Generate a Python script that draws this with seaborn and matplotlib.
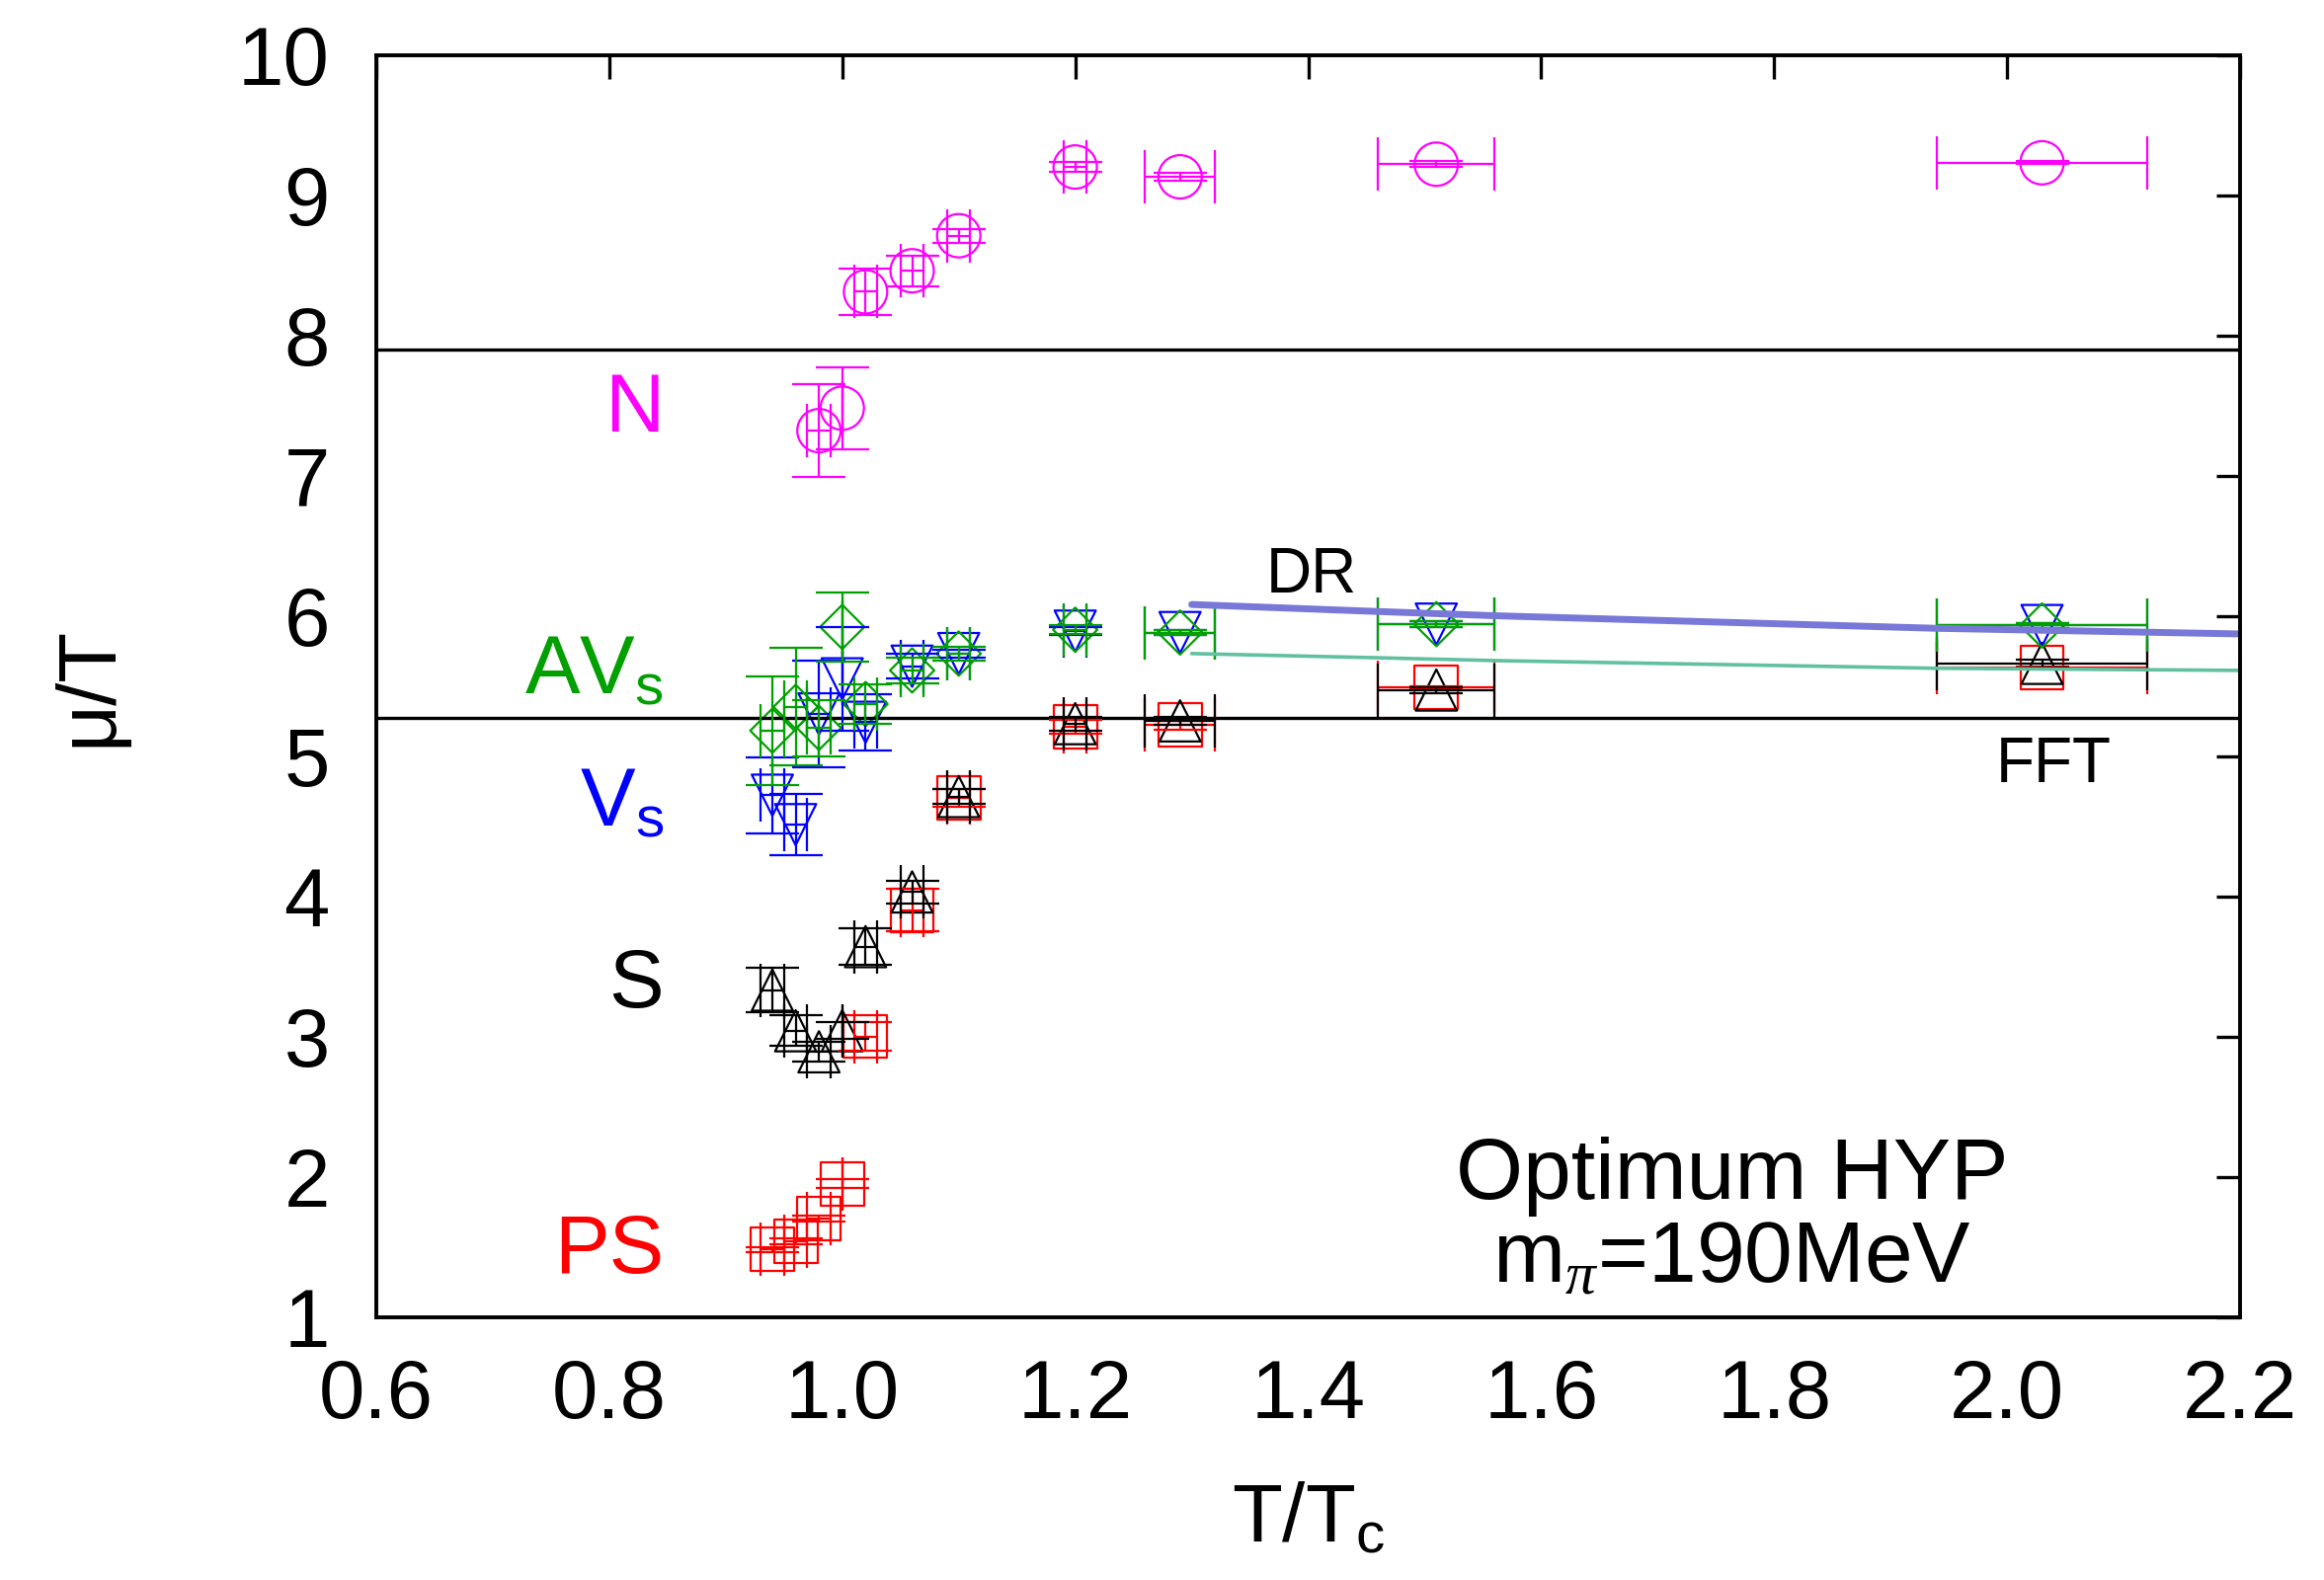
import numpy as np
import pandas as pd
import matplotlib
matplotlib.use('Agg')
import matplotlib.pyplot as plt
import seaborn as sns

# temperatures T/Tc of the ensembles and their uncertainty
T_all = [0.94, 0.96, 0.98, 1.00, 1.02, 1.06, 1.10, 1.20, 1.29, 1.51, 2.03]
T_err = [0.01, 0.01, 0.01, 0.0, 0.01, 0.01, 0.01, 0.01, 0.03, 0.05, 0.09]

# screening masses mu/T for each channel
ps_mu = [1.48, 1.54, 1.70, 1.95, 3.00, 3.90, 4.70, 5.21, 5.22, 5.49, 5.63]
ps_err = [0.02, 0.02, 0.02, 0.03, 0.10, 0.15, 0.065, 0.05, 0.03, 0.01, 0.01]

s_mu = [3.33, 3.04, 2.89, 3.04, 3.64, 4.03, 4.71, 5.23, 5.25, 5.47, 5.66]
s_err = [0.16, 0.11, 0.07, 0.06, 0.13, 0.08, 0.055, 0.05, 0.03, 0.02, 0.03]

v_mu = [4.72, 4.51, 5.30, 5.55, 5.24, 5.64, 5.73, 5.89, 5.88, 5.94, 5.93]
v_err = [0.27, 0.22, 0.38, 0.37, 0.20, 0.09, 0.03, 0.03, 0.02, 0.02, 0.02]

av_mu = [5.18, 5.35, 5.20, 5.92, 5.37, 5.61, 5.73, 5.90, 5.88, 5.94, 5.93]
av_err = [0.39, 0.42, 0.20, 0.245, 0.14, 0.09, 0.05, 0.03, 0.02, 0.02, 0.02]

# nucleon only from 0.98 upwards
n_T = T_all[2:]
n_Terr = T_err[2:]
n_mu = [7.32, 7.48, 8.31, 8.46, 8.71, 9.20, 9.13, 9.22, 9.23]
n_err = [0.33, 0.29, 0.165, 0.11, 0.05, 0.035, 0.03, 0.02, 0.01]

# free limits: dimensional reduction and free field theory
dr_T = [1.30, 1.46, 1.56, 1.94, 2.20]
dr_mu = [6.08, 6.03, 6.00, 5.91, 5.87]
fft_T = [1.30, 1.46, 1.56, 1.94, 2.20]
fft_mu = [5.73, 5.70, 5.68, 5.625, 5.61]

# horizontal reference lines
hlines = [7.9, 5.27]

x_ticks = [0.6, 0.8, 1.0, 1.2, 1.4, 1.6, 1.8, 2.0, 2.2]
y_ticks = [1, 2, 3, 4, 5, 6, 7, 8, 9, 10]

sns.set_theme(style='white')
plt.rcParams['font.family'] = ['Liberation Sans', 'DejaVu Sans']
plt.rcParams['text.color'] = 'black'
plt.rcParams['axes.labelcolor'] = 'black'
plt.rcParams['mathtext.fontset'] = 'custom'
plt.rcParams['mathtext.rm'] = 'Liberation Sans'
plt.rcParams['mathtext.it'] = 'Liberation Serif:italic'

fig = plt.figure(figsize=(2353 / 200, 1600 / 200), dpi=200)
ax = fig.add_axes([381 / 2353, 1 - 1333.5 / 1600, 1887 / 2353, 1278 / 1600])

channels = [
    (T_all, T_err, ps_mu, ps_err, '#ff0000', 's', 15.8),
    (T_all, T_err, s_mu, s_err, '#000000', '^', 15.0),
    (T_all, T_err, v_mu, v_err, '#0000ff', 'v', 15.0),
    (T_all, T_err, av_mu, av_err, '#00a000', 'D', 11.4),
    (n_T, n_Terr, n_mu, n_err, '#ff00ff', 'o', 15.8),
]

for T, Te, mu, me, col, mk, ms in channels:
    ax.errorbar(T, mu, xerr=Te, yerr=me, fmt='none', ecolor=col,
                elinewidth=0.8, capsize=9.7, capthick=0.8)
    sns.scatterplot(x=T, y=mu, marker=mk, s=ms ** 2, color=col,
                    linewidth=0.8, ax=ax, legend=False)
    coll = ax.collections[-1]
    coll.set_facecolor('none')
    coll.set_edgecolor(col)

for h in hlines:
    ax.axhline(h, color='black', lw=1.2, zorder=1)

lines = pd.DataFrame({'T': dr_T + fft_T, 'mu': dr_mu + fft_mu,
                      'kind': ['DR'] * len(dr_T) + ['FFT'] * len(fft_T)})
sns.lineplot(data=lines[lines['kind'] == 'DR'], x='T', y='mu', color='#7878d8',
             lw=2.5, ax=ax, legend=False)
sns.lineplot(data=lines[lines['kind'] == 'FFT'], x='T', y='mu', color='#60c0a0',
             lw=1.3, ax=ax, legend=False)

ax.text(1.403, 6.165, 'DR', fontsize=23, ha='center', va='baseline', color='black')
ax.text(2.04, 4.815, 'FFT', fontsize=23, ha='center', va='baseline', color='black')

# channel labels
ax.text(0.847, 7.31, 'N', fontsize=30, ha='right', va='baseline', color='#ff00ff')
ax.text(0.847, 5.45, 'AV$_\\mathrm{s}$', fontsize=30, ha='right', va='baseline', color='#00a000')
ax.text(0.847, 4.50, 'V$_\\mathrm{s}$', fontsize=30, ha='right', va='baseline', color='#0000ff')
ax.text(0.847, 3.21, 'S', fontsize=30, ha='right', va='baseline', color='black')
ax.text(0.847, 1.31, 'PS', fontsize=30, ha='right', va='baseline', color='#ff0000')

ax.text(1.764, 1.84, 'Optimum HYP', fontsize=31.5, ha='center', va='baseline', color='black')
ax.text(1.764, 1.25, 'm$_{\\pi}$=190MeV', fontsize=31.5, ha='center', va='baseline', color='black')

ax.set_xlim(0.6, 2.2)
ax.set_ylim(1, 10)
ax.set_xticks(x_ticks)
ax.set_xticklabels([f'{t:.1f}' for t in x_ticks])
ax.set_yticks(y_ticks)
ax.set_yticklabels([str(t) for t in y_ticks])
ax.tick_params(axis='both', direction='in', length=8.6, width=1.2, colors='black',
               labelsize=30, top=True, right=True)
ax.tick_params(axis='x', pad=15)
ax.tick_params(axis='y', pad=17)
for sp in ax.spines.values():
    sp.set_color('black')
    sp.set_linewidth(1.4)

ax.set_xlabel('T/T$_\\mathrm{c}$', fontsize=30, labelpad=17)
ax.set_ylabel('\u03bc/T', fontsize=30, labelpad=40)

fig.savefig('out.png', dpi=200, facecolor='white')
